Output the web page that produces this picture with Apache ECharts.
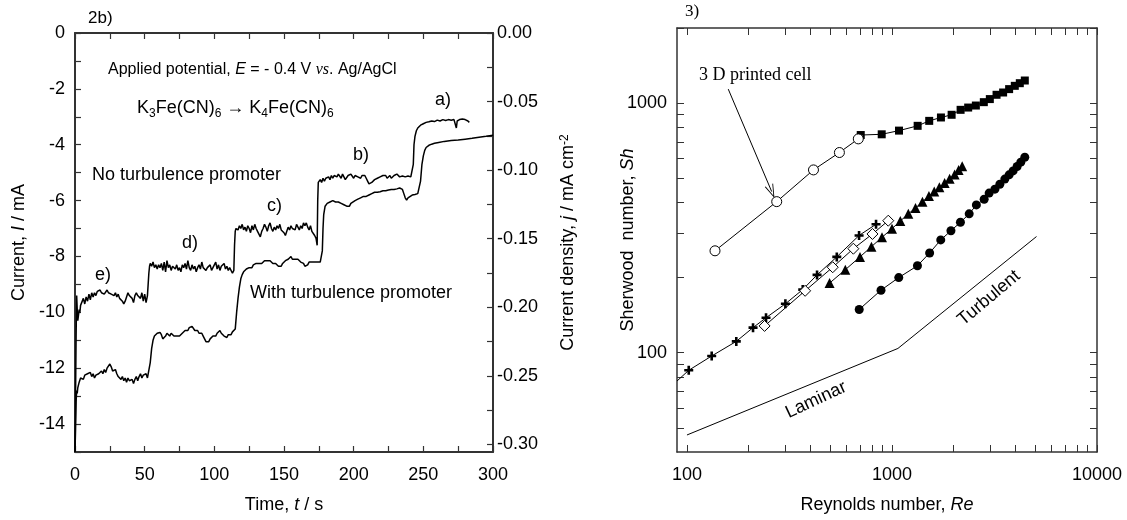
<!DOCTYPE html>
<html><head><meta charset="utf-8">
<script src="https://cdn.jsdelivr.net/npm/echarts@6/dist/echarts.min.js"></script>
<style>html,body{margin:0;padding:0;background:#fff}#c{width:1127px;height:520px}</style>
</head><body><div id="c"></div>
<script>
// ---------- Panel 2b: current vs time ----------
const noPromoter = [
[0,-15],[0.4,-13.0],[0.8,-10.8],[1.2,-9.4],[1.6,-9.9],[2,-10.3],[2.5,-10.1],[3,-9.9],[3.5,-10.0],[4,-9.75],[5,-9.8],[6,-9.5],[7,-9.7],[8,-9.45],[9,-9.6],[10,-9.35],[11,-9.55],[12,-9.3],[13,-9.45],[14,-9.3],[15,-9.4],[16,-9.25],[17,-9.3],[18,-9.2],[19,-9.3],[20,-9.25],[21,-9.35],[22,-9.3],[23,-9.2],[24,-9.3],[25,-9.25],[26,-9.35],[27,-9.3],[28,-9.4],[29,-9.3],[30,-9.45],[31,-9.35],[32,-9.5],[33,-9.45],[34,-9.6],[35,-9.7],[35.5,-9.75],[36,-9.6],[37,-9.45],[38,-9.3],[39,-9.4],[40,-9.35],[41,-9.5],[42,-9.65],[43,-9.4],[44,-9.3],[45,-9.4],[46,-9.35],[47,-9.5],[48,-9.3],[49,-9.6],[50,-9.35],[51,-9.65],[52,-9.4],[52.5,-9.0],[53,-8.6],[53.5,-8.35],
[54,-8.25],[55,-8.35],[56,-8.2],[57,-8.4],[58,-8.3],[59,-8.45],[60,-8.3],[61,-8.4],[62,-8.25],[63,-8.5],[64,-8.2],[65,-8.55],[66,-8.15],[67,-8.4],[68,-8.3],[69,-8.5],[70,-8.35],[71,-8.4],[72,-8.45],[73,-8.3],[74,-8.5],[75,-8.4],[76,-8.55],[77,-8.3],[78,-8.4],[79,-8.25],[80,-8.45],[81,-8.15],[82,-8.4],[83,-8.5],[84,-8.3],[85,-8.45],[86,-8.35],[87,-8.55],[88,-8.4],[89,-8.3],[90,-8.45],[91,-8.2],[92,-8.4],[93,-8.35],[94,-8.5],[95,-8.4],[96,-8.45],[97,-8.3],[98,-8.5],[99,-8.4],[100,-8.35],[101,-8.2],[102,-8.45],[103,-8.3],[104,-8.5],[105,-8.35],[106,-8.4],[107,-8.25],[108,-8.45],[109,-8.35],[110,-8.5],[111,-8.4],[112,-8.45],[113,-8.6],[114,-8.5],[114.5,-7.6],[115,-7.1],
[115.5,-7.0],[116,-6.95],[117,-7.05],[118,-6.9],[119,-7.0],[120,-6.85],[121,-7.05],[122,-6.95],[123,-7.1],[124,-6.9],[125,-7.0],[126,-7.15],[127,-6.9],[128,-7.05],[129,-6.85],[130,-7.0],[131,-7.1],[132,-7.2],[133,-7.3],[134,-7.1],[135,-7.0],[136,-6.85],[137,-6.95],[138,-7.1],[139,-6.9],[140,-6.8],[141,-7.0],[142,-7.1],[143,-6.95],[144,-7.05],[145,-6.9],[146,-7.0],[147,-6.85],[148,-7.05],[149,-7.0],[150,-7.15],[151,-7.25],[152,-7.1],[153,-6.95],[154,-7.05],[155,-6.9],[156,-7.0],[157,-6.95],[158,-7.05],[159,-6.85],[160,-6.95],[161,-7.05],[162,-6.9],[163,-7.0],[164,-6.8],[165,-6.9],[166,-6.8],[167,-6.95],[168,-7.05],[169,-6.9],[170,-7.1],[171,-7.05],[172,-7.25],[173,-7.35],[173.8,-7.6],[174.2,-6.0],[174.6,-5.35],
[175,-5.3],[176,-5.25],[177,-5.35],[178,-5.2],[179,-5.3],[180,-5.2],[181,-5.25],[182,-5.15],[183,-5.25],[184,-5.1],[185,-5.2],[186,-5.1],[187,-5.05],[188,-5.15],[189,-5.05],[190,-5.1],[191,-5.2],[192,-5.05],[193,-5.15],[194,-5.25],[195,-5.2],[196,-5.1],[197,-5.15],[198,-5.05],[199,-5.1],[200,-5.2],[201,-5.1],[202,-5.05],[203,-5.15],[204,-5.1],[205,-5.2],[206,-5.1],[207,-5.15],[208,-5.1],[209,-5.2],[210,-5.3],[211,-5.4],[212,-5.45],[213,-5.35],[214,-5.3],[215,-5.25],[216,-5.3],[217,-5.2],[218,-5.25],[219,-5.15],[220,-5.2],[221,-5.1],[222,-5.15],[223,-5.1],[224,-5.2],[225,-5.15],[226,-5.1],[227,-5.2],[228,-5.15],[229,-5.1],[230,-5.15],[231,-5.05],[232,-5.1],[233,-5.15],[234,-5.1],[235,-5.12],[236,-5.1],[237,-5.15],[238,-5.1],[239,-5.12],[240,-5.1],[241,-5.15],[242,-5.12],
[242.8,-4.7],[243.3,-4.0],[244,-3.7],[245,-3.5],[246,-3.4],[247,-3.35],[248,-3.3],[250,-3.25],[252,-3.2],[254,-3.18],[256,-3.15],[258,-3.17],[260,-3.12],[262,-3.15],[264,-3.1],[266,-3.13],[268,-3.1],[270,-3.12],[272,-3.1],[273,-3.15],[273.7,-3.4],[274.3,-3.15],[276,-3.1],[278,-3.08],[280,-3.1],[282,-3.15],[283,-3.2]
];
const withPromoter = [
[0,-15],[0.4,-14.2],[0.8,-13.2],[1.2,-12.8],[1.6,-12.9],[2,-12.7],[3,-12.5],[4,-12.35],[5,-12.3],[6,-12.4],[7,-12.25],[8,-12.3],[9,-12.2],[10,-12.25],[11,-12.15],[12,-12.3],[13,-12.2],[14,-12.35],[15,-12.25],[16,-12.3],[17,-12.2],[18,-12.25],[19,-12.1],[20,-12.2],[21,-12.05],[22,-12.15],[23,-12.0],[24,-11.95],[25,-11.85],[26,-11.95],[27,-12.1],[28,-12.15],[29,-12.05],[30,-12.2],[31,-12.3],[32,-12.25],[33,-12.4],[34,-12.3],[35,-12.45],[36,-12.35],[37,-12.5],[38,-12.35],[39,-12.45],[40,-12.5],[41,-12.4],[42,-12.55],[43,-12.4],[44,-12.3],[45,-12.45],[46,-12.3],[47,-12.2],[48,-12.35],[49,-12.25],[50,-12.3],[51,-12.2],[52,-12.35],[53,-12.3],[54,-11.8],[55,-11.3],[56,-11.0],[57,-10.85],[58,-10.8],[59,-10.75],[60,-10.7],[61,-10.72],[62,-10.8],[63,-10.95],[64,-11.0],[65,-10.85],[66,-10.75],[67,-10.8],[68,-10.85],[69,-10.75],
[70,-10.8],[71,-10.85],[72,-10.9],[73,-10.85],[74,-10.9],[75,-10.85],[76,-10.8],[77,-10.75],[78,-10.7],[79,-10.65],[80,-10.6],[81,-10.65],[82,-10.55],[83,-10.6],[84,-10.5],[85,-10.55],[86,-10.65],[87,-10.7],[88,-10.65],[89,-10.75],[90,-10.8],[91,-10.75],[92,-10.85],[93,-10.95],[94,-11.05],[95,-11.1],[96,-11.05],[97,-10.95],[98,-10.9],[99,-10.85],[100,-10.8],[101,-10.85],[102,-10.75],[103,-10.7],[104,-10.65],[105,-10.75],[106,-10.8],[107,-10.85],[108,-10.8],[109,-10.9],[110,-10.8],[111,-10.75],[112,-10.8],[113,-10.7],[114,-10.75],[115,-10.6],[116,-10.0],[117,-9.5],[118,-9.1],[119,-8.8],[120,-8.65],[121,-8.55],[122,-8.5],[123,-8.45],[124,-8.5],[125,-8.4],[126,-8.35],[127,-8.4],[128,-8.3],[129,-8.35],[130,-8.25],
[131,-8.3],[132,-8.25],[133,-8.2],[134,-8.25],[135,-8.2],[136,-8.15],[137,-8.2],[138,-8.15],[139,-8.2],[140,-8.15],[141,-8.2],[142,-8.25],[143,-8.2],[144,-8.25],[145,-8.3],[146,-8.35],[147,-8.4],[148,-8.35],[149,-8.25],[150,-8.2],[151,-8.15],[152,-8.2],[153,-8.1],[154,-8.05],[155,-8.0],[156,-8.1],[157,-8.15],[158,-8.1],[159,-8.15],[160,-8.1],[161,-8.15],[162,-8.2],[163,-8.15],[164,-8.25],[165,-8.35],[166,-8.4],[167,-8.3],[168,-8.2],[169,-8.25],[170,-8.2],[171,-8.15],[172,-8.2],[173,-8.25],[174,-8.2],[175,-8.25],[176,-8.2],[177,-8.25],[177.5,-7.8],[178,-7.0],[178.5,-6.5],[179.5,-6.2],[181,-6.1],[183,-6.05],[185,-6.0],
[187,-6.05],[189,-6.05],[191,-6.1],[193,-6.15],[195,-6.2],[196,-6.25],[197,-6.2],[198,-6.1],[199,-6.05],[201,-6.0],[203,-5.95],[205,-5.9],[207,-5.85],[209,-5.85],[211,-5.8],[213,-5.75],[215,-5.7],[217,-5.7],[219,-5.68],[221,-5.65],[223,-5.65],[225,-5.62],[227,-5.6],[229,-5.6],[231,-5.58],[233,-5.55],[234,-5.55],[235,-5.6],[236,-5.75],[237,-5.9],[238,-5.98],[239,-5.9],[240,-5.85],[242,-5.8],[244,-5.78],[246,-5.75],[247,-5.7],[248,-5.3],[249,-4.7],[250,-4.4],[251,-4.2],[252,-4.1],[254,-4.02],[256,-3.98],[258,-3.95],[261,-3.92],[265,-3.88],[270,-3.85],[275,-3.83],[280,-3.8],[285,-3.77],[290,-3.73],[295,-3.7],[300,-3.66]
];
const timeLabels = [0, 50, 100, 150, 200, 250, 300];
const currentLabels = [0, -2, -4, -6, -8, -10, -12, -14];
const densityTicks = [0, -0.025, -0.05, -0.075, -0.1, -0.125, -0.15, -0.175, -0.2, -0.225, -0.25, -0.275, -0.3];
const densityLabels = [0, -0.05, -0.1, -0.15, -0.2, -0.25, -0.3];

// ---------- Panel 3: Sherwood vs Reynolds ----------
const openRe = [137, 274, 414, 554, 685];
const openSh = [256, 403, 540, 634, 719];
const squareRe = [704, 891, 1082, 1334, 1519, 1733, 1954, 2161, 2353, 2565, 2805, 3001, 3236, 3484, 3727, 3972, 4202, 4445];
const squareSh = [745, 750, 776, 811, 849, 876, 898, 940, 960, 978, 1009, 1038, 1080, 1103, 1138, 1173, 1202, 1232];
const crossRe = [102, 132, 174, 210, 243, 302, 367, 431, 538, 691, 836];
const crossSh = [85, 97, 111, 126, 138, 157, 179, 205, 242, 295, 327];
const crossLeadRe = [89.4];
const crossLeadSh = [77];
const diamondRe = [239, 377, 514, 648, 803, 959];
const diamondSh = [128, 177, 220, 261, 299, 338];
const triangleRe = [496, 592, 698, 794, 894, 1000, 1098, 1201, 1302, 1408, 1514, 1607, 1703, 1806, 1910, 2021, 2113, 2200];
const triangleSh = [190, 215, 242, 266, 290, 314, 337, 360, 380, 403, 424, 442, 460, 479, 498, 518, 539, 559];
const circleRe = [692, 884, 1079, 1331, 1526, 1729, 1939, 2157, 2380, 2580, 2816, 2978, 3176, 3358, 3551, 3727, 3897, 4077, 4249, 4444];
const circleSh = [149, 178, 200, 223, 251, 283, 308, 333, 360, 391, 412, 436, 452, 473, 496, 516, 535, 557, 580, 607];
const limitRe = [100, 1069, 5069];
const limitSh = [46.8, 104, 292];
const arrowRe = [159, 259];
const arrowSh = [1138, 442];
const reTicks = [100,200,300,400,500,600,700,800,900,1000,2000,3000,4000,5000,6000,7000,8000,9000,10000];
const reLabels = [100, 1000, 10000];
const shTicks = [50,60,70,80,90,100,200,300,400,500,600,700,800,900,1000,2000];
const shLabels = [100, 1000];

const zip = (a, b) => a.map((v, i) => [v, b[i]]);
const SANS = 'Liberation Sans, Arial, sans-serif';
const SERIF = 'Liberation Serif, Times New Roman, serif';
const AX = '#333';
const plusPath = 'path://M-1.3,-4.5 L1.3,-4.5 L1.3,-1.3 L4.5,-1.3 L4.5,1.3 L1.3,1.3 L1.3,4.5 L-1.3,4.5 L-1.3,1.3 L-4.5,1.3 L-4.5,-1.3 L-1.3,-1.3 Z';
const vArrow = 'path://M0,0 L4.5,14 L3.6,14 L0,2.8 L-3.6,14 L-4.5,14 Z';

const chart = echarts.init(document.getElementById('c'), null, {renderer: 'canvas'});

const labelStyle = {color: '#000', fontSize: 18, fontFamily: SANS};
const nameRich = {
  a: {fontSize: 18, fontFamily: SANS, color: '#000'},
  i: {fontSize: 18, fontFamily: SANS, fontStyle: 'italic', color: '#000'},
  sup: {fontSize: 12, fontFamily: SANS, color: '#000', verticalAlign: 'top', lineHeight: 12}
};
const plain = v => String(v);

function baseAxis(extra) {
  return Object.assign({
    axisLine: {show: true, onZero: false, lineStyle: {color: AX, width: 2}},
    axisTick: {show: true, inside: true, length: 6, lineStyle: {color: AX, width: 1.2}},
    splitLine: {show: false},
    nameMoveOverlap: false,
    axisLabel: Object.assign({}, labelStyle)
  }, extra);
}

const option = {
  animation: false,
  backgroundColor: '#fff',
  grid: [
    {left: 75, top: 33, width: 418, height: 419},
    {left: 677, top: 28, width: 420, height: 424}
  ],
  xAxis: [
    baseAxis({gridIndex: 0, type: 'value', min: 0, max: 300, interval: 25, position: 'bottom',
      axisLabel: Object.assign({}, labelStyle, {margin: 14, customValues: timeLabels, formatter: plain}),
      name: '{a|Time, }{i|t}{a| / s}', nameLocation: 'middle', nameGap: 44,
      nameTextStyle: {rich: nameRich}}),
    baseAxis({gridIndex: 0, type: 'value', min: 0, max: 300, interval: 25, position: 'top',
      axisLabel: {show: false}}),
    baseAxis({gridIndex: 1, type: 'log', logBase: 10, min: 89.4, max: 10000, position: 'bottom',
      axisLine: {show: true, onZero: false, lineStyle: {color: AX, width: 1.5}},
      axisTick: {show: true, inside: true, length: 7, customValues: reTicks, lineStyle: {color: AX, width: 1}},
      axisLabel: Object.assign({}, labelStyle, {margin: 14, customValues: reLabels, formatter: plain}),
      name: '{a|Reynolds number, }{i|Re}', nameLocation: 'middle', nameGap: 44,
      nameTextStyle: {rich: nameRich}}),
    baseAxis({gridIndex: 1, type: 'log', logBase: 10, min: 89.4, max: 10000, position: 'top',
      axisLine: {show: true, onZero: false, lineStyle: {color: AX, width: 1.5}},
      axisTick: {show: true, inside: true, length: 7, customValues: reTicks, lineStyle: {color: AX, width: 1}},
      axisLabel: {show: false}})
  ],
  yAxis: [
    baseAxis({gridIndex: 0, type: 'value', min: -15, max: 0, interval: 1, position: 'left',
      axisLabel: Object.assign({}, labelStyle, {margin: 10, customValues: currentLabels, formatter: plain}),
      name: '{a|Current, }{i|I}{a| / mA}', nameLocation: 'middle', nameGap: 47, nameRotate: 90,
      nameTextStyle: {rich: nameRich}}),
    baseAxis({gridIndex: 0, type: 'value', min: -0.3055, max: 0, position: 'right',
      axisTick: {show: true, inside: true, length: 6, customValues: densityTicks, lineStyle: {color: AX, width: 1.2}},
      axisLabel: Object.assign({}, labelStyle, {margin: 4, customValues: densityLabels,
        formatter: v => (Math.abs(v) < 1e-9 ? 0 : v).toFixed(2)}),
      name: '{a|Current density, }{i|j}{a| / mA cm}{sup|-2}', nameLocation: 'middle', nameGap: 66, nameRotate: 90,
      nameTextStyle: {rich: nameRich}}),
    baseAxis({gridIndex: 1, type: 'log', logBase: 10, min: 40, max: 2000, position: 'left',
      axisLine: {show: true, onZero: false, lineStyle: {color: AX, width: 1.5}},
      axisTick: {show: true, inside: true, length: 7, customValues: shTicks, lineStyle: {color: AX, width: 1}},
      axisLabel: Object.assign({}, labelStyle, {margin: 10, customValues: shLabels, formatter: plain}),
      name: '{a|Sherwood  number, }{i|Sh}', nameLocation: 'middle', nameGap: 40, nameRotate: 90,
      nameTextStyle: {rich: nameRich}}),
    baseAxis({gridIndex: 1, type: 'log', logBase: 10, min: 40, max: 2000, position: 'right',
      axisLine: {show: true, onZero: false, lineStyle: {color: AX, width: 1.5}},
      axisTick: {show: true, inside: true, length: 7, customValues: shTicks, lineStyle: {color: AX, width: 1}},
      axisLabel: {show: false}})
  ],
  series: [
    {type: 'line', xAxisIndex: 0, yAxisIndex: 0, data: noPromoter, showSymbol: false, symbol: 'none',
      lineStyle: {color: '#000', width: 1.5}, z: 3},
    {type: 'line', xAxisIndex: 0, yAxisIndex: 0, data: withPromoter, showSymbol: false, symbol: 'none',
      lineStyle: {color: '#000', width: 1.5}, z: 3},
    {type: 'line', xAxisIndex: 2, yAxisIndex: 2, data: zip(limitRe, limitSh), symbol: 'none',
      lineStyle: {color: '#000', width: 1}},
    {type: 'line', xAxisIndex: 2, yAxisIndex: 2, data: zip(squareRe, squareSh), symbol: 'rect', symbolSize: 8,
      itemStyle: {color: '#000'}, lineStyle: {color: '#000', width: 1}},
    {type: 'line', xAxisIndex: 2, yAxisIndex: 2,
      data: zip(openRe, openSh).concat([[squareRe[0], squareSh[0]]]).map((p, i, arr) => i === arr.length - 1 ? {value: p, symbol: 'none'} : p),
      symbol: 'circle', symbolSize: 10,
      itemStyle: {color: '#fff', borderColor: '#000', borderWidth: 1}, lineStyle: {color: '#000', width: 1}, z: 4,
      markLine: {silent: true, symbol: ['none', vArrow], symbolSize: [9, 14], label: {show: false},
        lineStyle: {color: '#000', width: 1, type: 'solid'},
        data: [[{coord: [arrowRe[0], arrowSh[0]]}, {coord: [arrowRe[1], arrowSh[1]]}]]}},
    {type: 'line', xAxisIndex: 2, yAxisIndex: 2,
      data: zip(crossLeadRe, crossLeadSh).map(p => ({value: p, symbol: 'none'})).concat(zip(crossRe, crossSh)),
      symbol: plusPath, symbolSize: 9,
      itemStyle: {color: '#000'}, lineStyle: {color: '#000', width: 1}},
    {type: 'line', xAxisIndex: 2, yAxisIndex: 2, data: zip(diamondRe, diamondSh), symbol: 'diamond', symbolSize: 11,
      itemStyle: {color: '#fff', borderColor: '#000', borderWidth: 1}, lineStyle: {color: '#000', width: 1}, z: 4},
    {type: 'line', xAxisIndex: 2, yAxisIndex: 2, data: zip(triangleRe, triangleSh), symbol: 'triangle', symbolSize: 10,
      itemStyle: {color: '#000'}, lineStyle: {color: '#000', width: 1}},
    {type: 'line', xAxisIndex: 2, yAxisIndex: 2, data: zip(circleRe, circleSh), symbol: 'circle', symbolSize: 9,
      itemStyle: {color: '#000'}, lineStyle: {color: '#000', width: 1}}
  ],
  graphic: [
    {type: 'text', x: 88, y: 18, style: {text: '2b)', font: '17px ' + SANS, fill: '#000', verticalAlign: 'middle'}},
    {type: 'text', x: 108, y: 70, style: {
      text: '{a|Applied potential, }{i|E}{a| = - 0.4 V }{s|vs}{a|. Ag/AgCl}',
      verticalAlign: 'middle',
      rich: {a: {fontSize: 16, fontFamily: SANS, fill: '#000'}, i: {fontSize: 16, fontFamily: SANS, fontStyle: 'italic', fill: '#000'},
        s: {fontSize: 16, fontFamily: SERIF, fontStyle: 'italic', fill: '#000'}}}},
    {type: 'text', x: 137, y: 108, style: {
      text: '{a|K}{b|3}{a|Fe(CN)}{b|6}{a| \u2192 K}{b|4}{a|Fe(CN)}{b|6}',
      verticalAlign: 'middle',
      rich: {a: {fontSize: 18, fontFamily: SANS, fill: '#000', lineHeight: 24},
        b: {fontSize: 12, fontFamily: SANS, fill: '#000', lineHeight: 14, verticalAlign: 'bottom'}}}},
    {type: 'text', x: 435, y: 100, style: {text: 'a)', font: '18px ' + SANS, fill: '#000', verticalAlign: 'middle'}},
    {type: 'text', x: 353, y: 155, style: {text: 'b)', font: '18px ' + SANS, fill: '#000', verticalAlign: 'middle'}},
    {type: 'text', x: 267, y: 206, style: {text: 'c)', font: '18px ' + SANS, fill: '#000', verticalAlign: 'middle'}},
    {type: 'text', x: 182, y: 243, style: {text: 'd)', font: '18px ' + SANS, fill: '#000', verticalAlign: 'middle'}},
    {type: 'text', x: 95, y: 275, style: {text: 'e)', font: '18px ' + SANS, fill: '#000', verticalAlign: 'middle'}},
    {type: 'text', x: 92, y: 175, style: {text: 'No turbulence promoter', font: '18px ' + SANS, fill: '#000', verticalAlign: 'middle'}},
    {type: 'text', x: 250, y: 293, style: {text: 'With turbulence promoter', font: '18px ' + SANS, fill: '#000', verticalAlign: 'middle'}},
    {type: 'text', x: 685, y: 12, style: {text: '3)', font: '17px ' + SERIF, fill: '#000', verticalAlign: 'middle'}},
    {type: 'text', x: 699, y: 75, style: {text: '3 D printed cell', font: '18px ' + SERIF, fill: '#000', verticalAlign: 'middle'}},
    {type: 'text', x: 816, y: 400, rotation: 25 * Math.PI / 180, style: {text: 'Laminar', font: '18px ' + SANS, fill: '#000', align: 'center', verticalAlign: 'middle'}},
    {type: 'text', x: 989, y: 298, rotation: 40 * Math.PI / 180, style: {text: 'Turbulent', font: '18px ' + SANS, fill: '#000', align: 'center', verticalAlign: 'middle'}}
  ]
};
chart.setOption(option);
</script></body></html>
